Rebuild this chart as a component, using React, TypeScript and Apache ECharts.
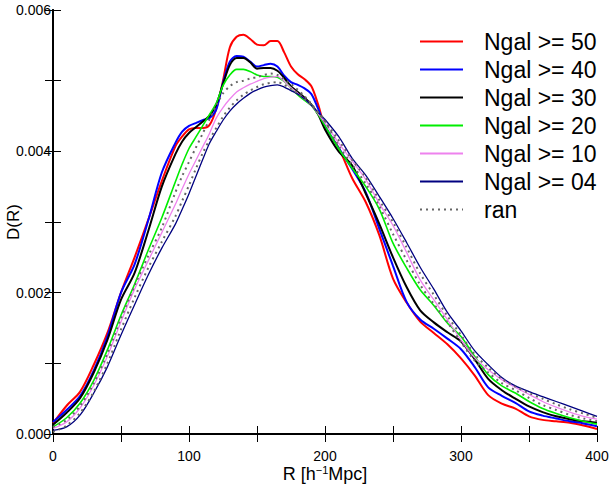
import React, { useEffect, useRef } from "react";
import * as echarts from "echarts";

// R positions (h^-1 Mpc)
const R = [0, 10, 20, 30, 40, 50, 60, 70, 80, 90,
  95, 100, 105, 110, 115, 120, 125, 130, 135, 140, 145, 150, 155, 160, 165, 170, 175, 180, 185, 190, 195, 200,
  210, 220, 230, 240, 250, 260, 270, 280, 290, 300, 310, 320, 330, 340, 350, 360, 370, 380, 390, 400];

const ngal50 = [0.00015, 0.0004, 0.0006, 0.00098, 0.00143, 0.002, 0.0025, 0.00303, 0.00358, 0.00407,
  0.00421, 0.00431, 0.00433, 0.00433, 0.00437, 0.0046, 0.005, 0.00547, 0.00562, 0.00565, 0.00559, 0.00551, 0.0055, 0.00556, 0.00556, 0.0054, 0.0052, 0.00509, 0.00502, 0.00492, 0.00466, 0.00435,
  0.00405, 0.00362, 0.00328, 0.00281, 0.0022, 0.00186, 0.00159, 0.00143, 0.00127, 0.00107, 0.00083, 0.00055, 0.00043, 0.00036, 0.00025, 0.0002, 0.00018, 0.00016, 0.00012, 0.00007];

const ngal40 = [0.00017, 0.00034, 0.00054, 0.0009, 0.00138, 0.002, 0.0024, 0.00302, 0.0037, 0.00412,
  0.00428, 0.00436, 0.0044, 0.00444, 0.00447, 0.00459, 0.00497, 0.00527, 0.00535, 0.00534, 0.00527, 0.0052, 0.00522, 0.00524, 0.0052, 0.00507, 0.00498, 0.00494, 0.00489, 0.00481, 0.0046, 0.00436,
  0.00405, 0.00375, 0.00342, 0.0029, 0.00238, 0.00187, 0.00162, 0.00149, 0.00135, 0.0012, 0.00095, 0.00066, 0.00054, 0.00044, 0.00032, 0.00026, 0.00022, 0.00018, 0.00015, 0.00011];

const ngal30 = [0.00013, 0.0003, 0.00051, 0.00087, 0.00133, 0.0019, 0.00228, 0.00287, 0.0035, 0.00396,
  0.00414, 0.00426, 0.00434, 0.00442, 0.0045, 0.00466, 0.00495, 0.00522, 0.00532, 0.00532, 0.00526, 0.00517, 0.00518, 0.00518, 0.00514, 0.00504, 0.00492, 0.00484, 0.00476, 0.00466, 0.00452, 0.00431,
  0.004, 0.0038, 0.0034, 0.00297, 0.0025, 0.00208, 0.00175, 0.00158, 0.00144, 0.00131, 0.00106, 0.00078, 0.00062, 0.0005, 0.00039, 0.00031, 0.00025, 0.00021, 0.00018, 0.00016];

const ngal20 = [0.0001, 0.00023, 0.00044, 0.00076, 0.00119, 0.00168, 0.00212, 0.0026, 0.00306, 0.00357,
  0.00382, 0.00404, 0.0042, 0.00436, 0.00452, 0.00468, 0.00493, 0.00508, 0.00516, 0.00516, 0.00513, 0.00508, 0.00506, 0.00506, 0.00505, 0.00499, 0.0049, 0.0048, 0.00472, 0.00465, 0.00452, 0.00436,
  0.00404, 0.00376, 0.0035, 0.00318, 0.0027, 0.00235, 0.00204, 0.00182, 0.00157, 0.00138, 0.0011, 0.00084, 0.00068, 0.00058, 0.00046, 0.00036, 0.00029, 0.00023, 0.00018, 0.00014];

const ngal10 = [0.00008, 0.00017, 0.00037, 0.00069, 0.0011, 0.00159, 0.00205, 0.00245, 0.00285, 0.00325,
  0.00347, 0.00368, 0.00387, 0.00406, 0.00425, 0.00447, 0.00462, 0.00474, 0.00484, 0.0049, 0.00495, 0.00499, 0.00503, 0.00505, 0.00506, 0.00499, 0.0049, 0.00482, 0.00474, 0.00465, 0.00453, 0.0044,
  0.00412, 0.00386, 0.0036, 0.00326, 0.00295, 0.00257, 0.00218, 0.0019, 0.00162, 0.00133, 0.00108, 0.00091, 0.00077, 0.00066, 0.00056, 0.00046, 0.00038, 0.00031, 0.00025, 0.00021];

const ngal04 = [0.00005, 0.0001, 0.00027, 0.00058, 0.00095, 0.0014, 0.00183, 0.00225, 0.00263, 0.00297,
  0.00318, 0.0034, 0.00364, 0.00388, 0.00411, 0.00428, 0.00444, 0.00457, 0.00467, 0.00475, 0.00482, 0.00487, 0.00491, 0.00493, 0.00494, 0.00491, 0.00486, 0.00481, 0.00474, 0.00465, 0.00455, 0.00445,
  0.00421, 0.0039, 0.00366, 0.00336, 0.00305, 0.00271, 0.00236, 0.00205, 0.00172, 0.00146, 0.00118, 0.00098, 0.0008, 0.00068, 0.0006, 0.00053, 0.00046, 0.00039, 0.00032, 0.00025];

const ranA = [0.0001, 0.0002, 0.0004, 0.00072, 0.00114, 0.00164, 0.0021, 0.00252, 0.00292, 0.00342,
  0.00365, 0.00385, 0.00405, 0.00425, 0.00445, 0.00465, 0.00482, 0.00492, 0.00498, 0.005, 0.00503, 0.00505, 0.00508, 0.0051, 0.00508, 0.00502, 0.00495, 0.00487, 0.00478, 0.00467, 0.00455, 0.00442,
  0.00416, 0.00388, 0.00363, 0.00331, 0.003, 0.00264, 0.00227, 0.00197, 0.00167, 0.0014, 0.00113, 0.00094, 0.00078, 0.00067, 0.00058, 0.0005, 0.00042, 0.00035, 0.00029, 0.00023];

const ranB = [0.00003, 0.00012, 0.0003, 0.0006, 0.001, 0.00148, 0.00193, 0.00235, 0.00272, 0.00308,
  0.0033, 0.00352, 0.00375, 0.00397, 0.00416, 0.00433, 0.00449, 0.00462, 0.00472, 0.0048, 0.00486, 0.00491, 0.00495, 0.00497, 0.00498, 0.00494, 0.00488, 0.00482, 0.00474, 0.00465, 0.00455, 0.00443,
  0.00408, 0.00381, 0.00354, 0.00322, 0.00283, 0.00246, 0.00211, 0.00184, 0.00158, 0.0013, 0.00104, 0.00087, 0.00072, 0.00062, 0.00051, 0.00041, 0.00034, 0.00027, 0.00022, 0.00018];

const seriesNames = ["Ngal >= 50", "Ngal >= 40", "Ngal >= 30", "Ngal >= 20", "Ngal >= 10", "Ngal >= 04", "ran"];

const FONT = "'Liberation Sans', Arial, Helvetica, sans-serif";

export default function App() {
  const ref = useRef<HTMLDivElement>(null);
  useEffect(() => {
    if (!ref.current) return;
    const chart = echarts.init(ref.current, null, { renderer: "svg" });
    const pts = (vals: number[]) => R.map((r, i) => [r, vals[i]]);
    const lineSeries = (name: string, vals: number[], color: string, width: number, extra: any = {}) => ({
      type: "line",
      name,
      data: pts(vals),
      symbol: "none",
      smooth: 0.3,
      lineStyle: { color, width, ...extra },
      itemStyle: { color },
      z: 3,
    });
    const tickStyle = { show: true, inside: true, length: 8, lineStyle: { color: "#000", width: 1 } };
    const axisLine = { show: true, lineStyle: { color: "#000", width: 2 } };
    chart.setOption({
      animation: false,
      backgroundColor: "#fff",
      textStyle: { fontFamily: FONT },
      grid: { left: 53, right: 12, top: 10, bottom: 54, containLabel: false, outerBoundsMode: "none" },
      legend: {
        orient: "vertical",
        left: 414,
        top: 25,
        data: seriesNames,
        itemWidth: 43,
        itemHeight: 10,
        itemGap: 5,
        itemStyle: { color: "rgba(0,0,0,0)", borderWidth: 0, opacity: 0 },
        textStyle: { fontSize: 23, lineHeight: 23, color: "#000", fontFamily: FONT, padding: [0, 0, 0, 16] },
      },
      xAxis: [
        {
          type: "value",
          min: 0,
          max: 400,
          interval: 50,
          position: "bottom",
          axisLine,
          axisTick: tickStyle,
          splitLine: { show: false },
          axisLabel: {
            color: "#000",
            fontSize: 14,
            margin: 15,
            fontFamily: FONT,
            formatter: (v: number) => (v % 100 === 0 ? String(v) : ""),
          },
          name: "{a|R [h}{s|−1}{a|Mpc]}",
          nameLocation: "middle",
          nameGap: 30,
          nameMoveOverlap: false,
          nameTextStyle: {
            rich: {
              a: { fontSize: 18, color: "#000", fontFamily: FONT },
              s: { fontSize: 11, color: "#000", fontFamily: FONT, verticalAlign: "top", padding: [0, 0, 8, 0] },
            },
          },
        },
        {
          type: "value",
          min: 0,
          max: 400,
          interval: 50,
          position: "top",
          axisLine,
          axisTick: tickStyle,
          axisLabel: { show: false },
          splitLine: { show: false },
        },
      ],
      yAxis: [
        {
          type: "value",
          min: 0,
          max: 0.006,
          interval: 0.001,
          position: "left",
          axisLine,
          axisTick: tickStyle,
          splitLine: { show: false },
          axisLabel: {
            color: "#000",
            fontSize: 14,
            margin: 2,
            fontFamily: FONT,
            formatter: (v: number) => (Math.round(v * 1000) % 2 === 0 ? v.toFixed(3) : ""),
          },
          name: "D(R)",
          nameLocation: "middle",
          nameGap: 31,
          nameMoveOverlap: false,
          nameTextStyle: { fontSize: 17, color: "#000", fontFamily: FONT },
        },
        {
          type: "value",
          min: 0,
          max: 0.006,
          interval: 0.001,
          position: "right",
          axisLine,
          axisTick: tickStyle,
          axisLabel: { show: false },
          splitLine: { show: false },
        },
      ],
      series: [
        lineSeries(seriesNames[0], ngal50, "#ff0000", 2),
        lineSeries(seriesNames[1], ngal40, "#0000ff", 2),
        lineSeries(seriesNames[2], ngal30, "#000000", 2),
        lineSeries(seriesNames[3], ngal20, "#00ee00", 1.6),
        lineSeries(seriesNames[4], ngal10, "#ee82ee", 1.3),
        lineSeries(seriesNames[5], ngal04, "#000080", 1.3),
        lineSeries(seriesNames[6], ranA, "#666666", 2, { type: [2, 4] }),
        lineSeries(seriesNames[6], ranB, "#666666", 2, { type: [2, 4] }),
      ],
    });
    return () => chart.dispose();
  }, []);
  return (
    <div
      ref={ref}
      style={{ position: "fixed", left: 0, top: 0, width: 609, height: 488, background: "#fff" }}
    />
  );
}
